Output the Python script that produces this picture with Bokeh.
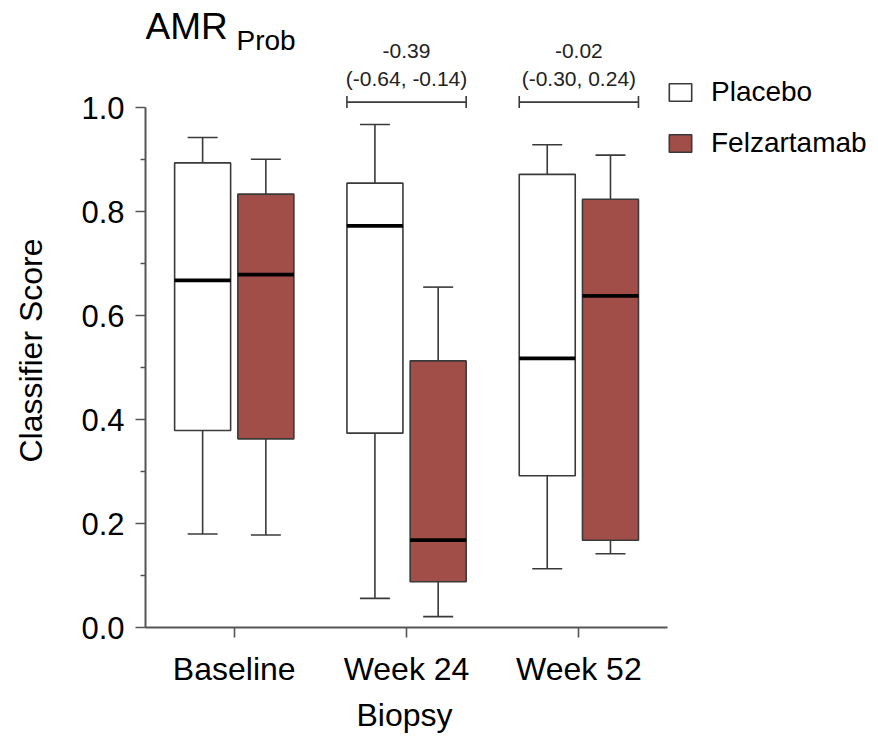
from bokeh.plotting import figure
from bokeh.models import (Range1d, FixedTicker, Label, Legend, LegendItem, ColumnDataSource,
                          PrintfTickFormatter, Title)
from bokeh.core.properties import value
from bokeh.embed import file_html
from bokeh.resources import INLINE

# ---------------- data ----------------
categories = ["Baseline", "Week 24", "Week 52"]

placebo_low = [0.180, 0.056, 0.113]
placebo_q1 = [0.379, 0.374, 0.292]
placebo_med = [0.668, 0.773, 0.518]
placebo_q3 = [0.894, 0.855, 0.872]
placebo_high = [0.943, 0.968, 0.929]

felz_low = [0.178, 0.021, 0.142]
felz_q1 = [0.363, 0.088, 0.168]
felz_med = [0.679, 0.168, 0.638]
felz_q3 = [0.834, 0.513, 0.824]
felz_high = [0.901, 0.655, 0.909]

diff_cats = ["Week 24", "Week 52"]
diff_est = [-0.39, -0.02]
diff_lo = [-0.64, -0.30]
diff_hi = [-0.14, 0.24]

y_ticks = [0.0, 0.2, 0.4, 0.6, 0.8, 1.0]
y_minor = [0.1, 0.3, 0.5, 0.7, 0.9]

# ---------------- style ----------------
FONT = "Liberation Sans"
FELZ = "#A14E48"
EDGE = "#3a3a3a"
AXIS = "#555555"
BOX_W = 0.325
OFF = 0.1835
CAP = 0.087
X0, X1 = -0.515, 2.515          # extent of the drawn x axis
X_END = 3.739                   # frame continues to the right for the legend

p = figure(width=878, height=738, output_backend="svg", toolbar_location=None,
           x_range=Range1d(X0, X_END), y_range=Range1d(0, 1.2065),
           min_border_left=145, min_border_right=0, min_border_top=0,
           min_border_bottom=110)
p.outline_line_color = None
p.xgrid.visible = False
p.ygrid.visible = False
p.background_fill_color = "white"

xs = list(range(len(categories)))


def draw_group(offset, low, q1, med, q3, high, fill):
    cx = [i + offset for i in xs]
    src = ColumnDataSource(dict(x=cx, low=low, q1=q1, med=med, q3=q3, high=high,
                                l=[c - BOX_W / 2 for c in cx], r=[c + BOX_W / 2 for c in cx],
                                cl=[c - CAP for c in cx], cr=[c + CAP for c in cx]))
    p.segment(x0="x", y0="q3", x1="x", y1="high", source=src, line_color=EDGE, line_width=1.6)
    p.segment(x0="x", y0="q1", x1="x", y1="low", source=src, line_color=EDGE, line_width=1.6)
    p.segment(x0="cl", y0="high", x1="cr", y1="high", source=src, line_color=EDGE, line_width=1.6)
    p.segment(x0="cl", y0="low", x1="cr", y1="low", source=src, line_color=EDGE, line_width=1.6)
    r = p.vbar(x="x", width=BOX_W, bottom="q1", top="q3", source=src,
               fill_color=fill, line_color=EDGE, line_width=1.6)
    p.segment(x0="l", y0="med", x1="r", y1="med", source=src, line_color="black", line_width=3.8)
    return r


r_pl = draw_group(-OFF, placebo_low, placebo_q1, placebo_med, placebo_q3, placebo_high, "white")
r_fz = draw_group(OFF, felz_low, felz_q1, felz_med, felz_q3, felz_high, FELZ)

# ---------------- difference brackets ----------------
bx = [categories.index(c) for c in diff_cats]
BR_Y = 1.011
BR_H = 0.0115
half = OFF + BOX_W / 2
bsrc = ColumnDataSource(dict(
    x0=[b - half for b in bx], x1=[b + half for b in bx], xc=bx,
    y=[BR_Y] * len(bx), ylo=[BR_Y - BR_H] * len(bx), yhi=[BR_Y + BR_H] * len(bx),
    est=["%.2f" % v for v in diff_est],
    ci=["(%.2f, %.2f)" % (a, b) for a, b in zip(diff_lo, diff_hi)],
    yest=[1.1085] * len(bx), yci=[1.056] * len(bx)))
p.segment(x0="x0", y0="y", x1="x1", y1="y", source=bsrc, line_color=EDGE, line_width=1.6)
p.segment(x0="x0", y0="ylo", x1="x0", y1="yhi", source=bsrc, line_color=EDGE, line_width=1.6)
p.segment(x0="x1", y0="ylo", x1="x1", y1="yhi", source=bsrc, line_color=EDGE, line_width=1.6)
p.text(x="xc", y="yest", text="est", source=bsrc, text_align="center", text_baseline="middle",
       text_font=value(FONT), text_font_size="21px", text_color="#222222")
p.text(x="xc", y="yci", text="ci", source=bsrc, text_align="center", text_baseline="middle",
       text_font=value(FONT), text_font_size="21px", text_color="#222222")

# ---------------- axes ----------------
xa = p.xaxis[0]
xa.ticker = FixedTicker(ticks=xs)
xa.major_label_overrides = {i: c for i, c in enumerate(categories)}
xa.bounds = (X0, X1)
xa.minor_tick_line_color = None
xa.major_tick_in = 0
xa.major_tick_out = 10

ya = p.yaxis[0]
ya.ticker = FixedTicker(ticks=y_ticks, minor_ticks=y_minor)
ya.formatter = PrintfTickFormatter(format="%.1f")
ya.bounds = (0, 1)
ya.major_tick_in = 0
ya.major_tick_out = 10
ya.minor_tick_in = 0
ya.minor_tick_out = 5
ya.minor_tick_line_color = AXIS
ya.minor_tick_line_width = 1.6
# blank axis label only reserves a little room between tick labels and the title
ya.axis_label = " "
ya.axis_label_text_font_size = "12px"
ya.axis_label_standoff = 13

for ax in (xa, ya):
    ax.axis_line_color = AXIS
    ax.axis_line_width = 2
    ax.major_tick_line_color = AXIS
    ax.major_tick_line_width = 1.6
    ax.major_label_text_font = FONT
    ax.major_label_text_color = "black"

xa.major_label_text_font_size = "32px"
ya.major_label_text_font_size = "31px"
xa.major_label_standoff = 13
ya.major_label_standoff = 11

# axis titles as side-panel titles so they sit where the reference has them
p.add_layout(Title(text="Biopsy", align="left", offset=211, standoff=11,
                   vertical_align="bottom", text_font=FONT, text_font_size="32px",
                   text_font_style="normal", text_color="black"), "below")
p.add_layout(Title(text="Classifier Score", align="left", offset=165, standoff=0,
                   vertical_align="bottom", text_font=FONT, text_font_size="32px",
                   text_font_style="normal", text_color="black"), "left")

# ---------------- title ----------------
p.add_layout(Label(x=X0, y=1.1566, text="AMR", text_font=FONT, text_font_size="37px",
                   text_color="black", text_align="left", text_baseline="middle"))
p.add_layout(Label(x=X0, y=1.1289, x_offset=91, text="Prob", text_font=FONT,
                   text_font_size="28px", text_color="black", text_align="left",
                   text_baseline="middle"))

# ---------------- legend ----------------
legend = Legend(items=[LegendItem(label="Placebo", renderers=[r_pl]),
                       LegendItem(label="Felzartamab", renderers=[r_fz])],
                location=(521, 468), orientation="vertical", padding=0, margin=0,
                spacing=19, glyph_width=28, glyph_height=22, label_height=22,
                label_standoff=17, label_text_font=FONT, label_text_font_size="28px",
                label_text_color="black", border_line_color=None, background_fill_alpha=0)
p.add_layout(legend)

open("out.html", "w").write(file_html(p, INLINE))
